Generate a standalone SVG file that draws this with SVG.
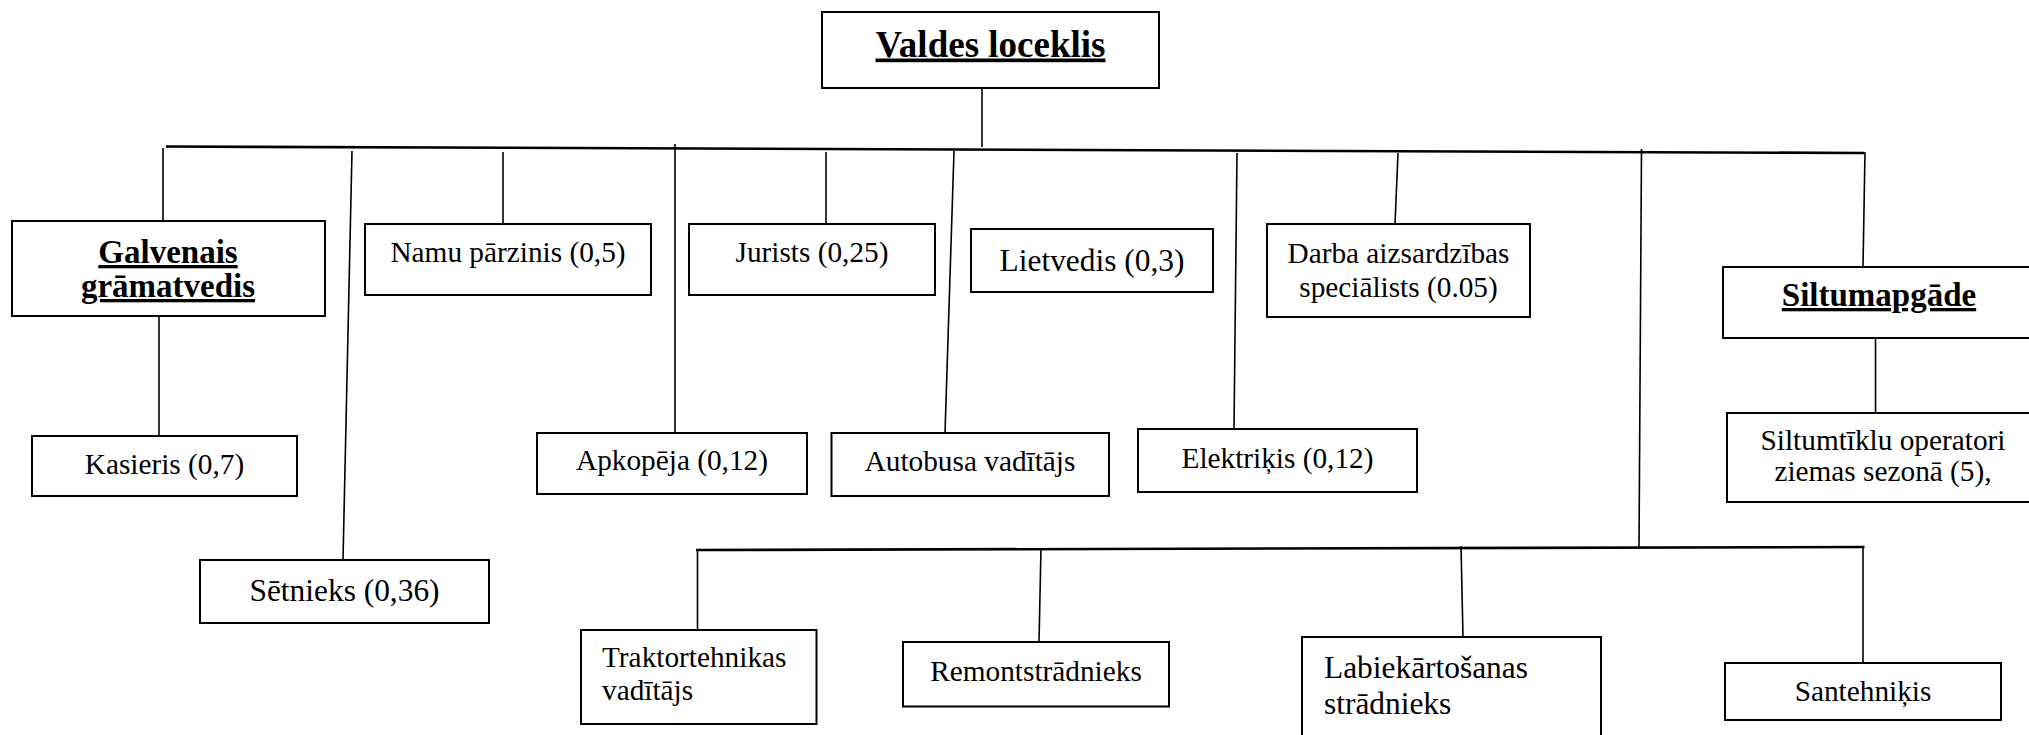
<svg xmlns="http://www.w3.org/2000/svg" width="2029" height="735" viewBox="0 0 2029 735" font-family="'Liberation Serif', 'DejaVu Serif', serif">
<style>
.box{fill:#fff;stroke:#000;stroke-width:2}
text{font-family:'Liberation Serif','DejaVu Serif',serif;font-size:29.3px;fill:#000}
.tl{font-size:31.4px}
.b{font-weight:bold;font-size:33px;text-decoration:underline}
.c{text-anchor:middle}
.ln{stroke:#000;stroke-width:1.6;fill:none}
.hl{stroke:#000;stroke-width:2.6;fill:none}
</style>
<rect width="2029" height="735" fill="#fff"/>
<g id="connectors">
<path class="ln" d="M982 88V147"/>
<path class="hl" d="M166 146.5L1864 153"/>
<path class="ln" d="M163 148V221"/>
<path class="ln" d="M159 316V436"/>
<path class="ln" d="M352 151L343 560"/>
<path class="ln" d="M503 152V224"/>
<path class="ln" d="M675 144V433"/>
<path class="ln" d="M826 152V224"/>
<path class="ln" d="M954 151L945 433"/>
<path class="ln" d="M1237 153L1234 429"/>
<path class="ln" d="M1398 153L1395 224"/>
<path class="ln" d="M1641.5 149L1639 548"/>
<path class="ln" d="M1865 152L1863 267"/>
<path class="ln" d="M1875.5 338V413"/>
<path class="hl" d="M696 550L1864.5 547"/>
<path class="ln" d="M697.5 549V631"/>
<path class="ln" d="M1041 548L1039 642"/>
<path class="ln" d="M1461 546L1463 637"/>
<path class="ln" d="M1863 547V663"/>
</g>
<g id="valdes"><rect class="box" x="822" y="12" width="337" height="76"/><text class="b c" style="font-size:37px" x="990.5" y="56.5">Valdes loceklis</text></g>
<g id="galvenais"><rect class="box" x="12" y="221" width="313" height="95"/><text class="b c" x="168" y="263">Galvenais</text><text class="b c" x="168" y="297">grāmatvedis</text></g>
<g id="kasieris"><rect class="box" x="32" y="436" width="265" height="60"/><text class="c" x="164.5" y="474">Kasieris (0,7)</text></g>
<g id="setnieks"><rect class="box" x="200" y="560" width="289" height="63"/><text class="tl c" x="344.5" y="600.5">Sētnieks (0,36)</text></g>
<g id="namu"><rect class="box" x="365" y="224" width="286" height="71"/><text class="c" x="508" y="261.5">Namu pārzinis (0,5)</text></g>
<g id="jurists"><rect class="box" x="689" y="224" width="246" height="71"/><text class="c" x="812" y="261.5">Jurists (0,25)</text></g>
<g id="apkopeja"><rect class="box" x="537" y="433" width="270" height="61"/><text class="c" x="672" y="470">Apkopēja (0,12)</text></g>
<g id="autobusa"><rect class="box" x="831.5" y="433" width="277.5" height="63"/><text class="c" x="970" y="470.5">Autobusa vadītājs</text></g>
<g id="lietvedis"><rect class="box" x="971" y="229" width="242" height="63"/><text class="tl c" x="1092" y="270.5">Lietvedis (0,3)</text></g>
<g id="darba"><rect class="box" x="1267" y="224" width="263" height="93"/><text class="c" x="1398.5" y="263">Darba aizsardzības</text><text class="c" x="1398.5" y="296.5">speciālists (0.05)</text></g>
<g id="elektrikis"><rect class="box" x="1138" y="429" width="279" height="63"/><text class="c" x="1277.5" y="468">Elektriķis (0,12)</text></g>
<g id="siltumapgade"><rect class="box" x="1723" y="267" width="320" height="71"/><text class="b c" x="1879" y="306">Siltumapgāde</text></g>
<g id="siltumtiklu"><rect class="box" x="1727" y="413" width="316" height="89"/><text class="c" x="1883" y="450">Siltumtīklu operatori</text><text class="c" x="1883" y="481">ziemas sezonā (5),</text></g>
<g id="traktor"><rect class="box" x="581" y="630" width="235.5" height="94"/><text x="602" y="667">Traktortehnikas</text><text x="602" y="700">vadītājs</text></g>
<g id="remont"><rect class="box" x="903" y="642" width="266" height="64.5"/><text class="c" x="1036" y="681">Remontstrādnieks</text></g>
<g id="labiek"><rect class="box" x="1302" y="637" width="299" height="110"/><text class="tl" x="1324" y="677.5">Labiekārtošanas</text><text class="tl" x="1324" y="714">strādnieks</text></g>
<g id="santeh"><rect class="box" x="1725" y="663" width="276" height="57"/><text class="c" x="1863" y="701">Santehniķis</text></g>
</svg>
